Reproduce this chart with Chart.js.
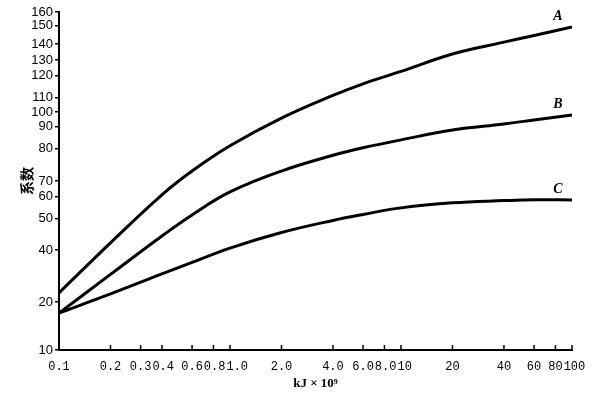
<!DOCTYPE html>
<html>
<head>
<meta charset="utf-8">
<script src="https://cdn.jsdelivr.net/npm/chart.js@4/dist/chart.umd.min.js"></script>
<style>
    html, body { margin: 0; padding: 0; background: #fff; }
    #wrap { width: 600px; height: 400px; }
</style>
</head>
<body>
<div id="wrap"><canvas id="coefChart"></canvas></div>
<script>
// energy axis, kJ x 10^9
const energy = [0.1, 0.2, 0.4, 0.6, 1, 2, 4, 6, 10, 20, 40, 60, 100];
const curveA = [23.5, 42.3, 61.3, 73.1, 81.4, 95.9, 111.1, 116.4, 122.8, 133.8, 141.1, 144.7, 149.4];
const curveB = [17.7, 30.6, 44.5, 51.8, 63.1, 73.1, 78, 80.5, 84.1, 88.6, 92, 94.7, 98];
const curveC = [17.7, 23.1, 30.8, 35.2, 40.6, 45.6, 49.5, 52, 55, 57.3, 58.3, 58.7, 58.6];

const xTicks = [0.1, 0.2, 0.3, 0.4, 0.6, 0.8, 1, 2, 4, 6, 8, 10, 20, 40, 60, 80, 100];
const xTickLabels = ['0.1', '0.2', '0.3', '0.4', '0.6', '0.8', '1.0', '2.0', '4.0', '6.0', '8.0', '10', '20', '40', '60', '80', '100'];
const yTicks = [10, 20, 40, 50, 60, 70, 80, 90, 100, 110, 120, 130, 140, 150, 160];
// where each y tick sits along the (unevenly ruled) printed axis, 0 = bottom, 1 = top
const yTickPlaces = [0, 0.142, 0.296, 0.388, 0.453, 0.5, 0.595, 0.66, 0.704, 0.746, 0.811, 0.858, 0.905, 0.959, 1];

// value axis ruled like the original paper: piecewise between the printed ticks
class RuledScale extends Chart.Scale {
    determineDataLimits() {
        const v = this.options.values;
        this.min = v[0];
        this.max = v[v.length - 1];
    }
    buildTicks() {
        return this.options.values.map(v => ({ value: v }));
    }
    getLabelForValue(value) {
        return String(value);
    }
    getDecimalForValue(value) {
        const v = this.options.values, p = this.options.places;
        if (value <= v[0]) return p[0];
        for (let i = 1; i < v.length; i++) {
            if (value <= v[i]) {
                return p[i - 1] + (value - v[i - 1]) / (v[i] - v[i - 1]) * (p[i] - p[i - 1]);
            }
        }
        return p[p.length - 1];
    }
    getPixelForValue(value) {
        return this.getPixelForDecimal(this.getDecimalForValue(value));
    }
    getPixelForTick(index) {
        return this.getPixelForValue(this.ticks[index].value);
    }
    getValueForPixel(pixel) {
        const d = this.getDecimalForPixel(pixel);
        const v = this.options.values, p = this.options.places;
        for (let i = 1; i < p.length; i++) {
            if (d <= p[i]) {
                return v[i - 1] + (d - p[i - 1]) / (p[i] - p[i - 1]) * (v[i] - v[i - 1]);
            }
        }
        return v[v.length - 1];
    }
}
RuledScale.id = 'ruled';
RuledScale.defaults = {};
Chart.register(RuledScale);

function toPoints(ys) {
    return energy.map((x, i) => ({ x: x, y: ys[i] }));
}

function curve(label, ys) {
    return {
        label: label,
        data: toPoints(ys),
        borderColor: '#000',
        borderWidth: 3,
        pointRadius: 0,
        fill: false,
        tension: 0.4
    };
}

// energy axis: short marks pointing up into the plot, labels pushed apart where they crowd
const energyAxis = {
    id: 'energyAxis',
    afterDraw(chart) {
        const ctx = chart.ctx;
        const xs = chart.scales.x;
        const bottom = chart.chartArea.bottom;
        ctx.save();
        ctx.strokeStyle = '#000';
        ctx.lineWidth = 1.5;
        xs.ticks.forEach(t => {
            const px = xs.getPixelForValue(t.value);
            ctx.beginPath();
            ctx.moveTo(px, bottom);
            ctx.lineTo(px, bottom - 5);
            ctx.stroke();
        });

        ctx.font = '12px "Liberation Mono"';
        ctx.fillStyle = '#000';
        ctx.textAlign = 'left';
        ctx.textBaseline = 'middle';
        let prevRight = -Infinity;
        xTicks.forEach((v, i) => {
            const text = xTickLabels[i];
            const w = ctx.measureText(text).width;
            const left = Math.max(xs.getPixelForValue(v) - w / 2, prevRight + 1);
            ctx.fillText(text, left, bottom + 17);
            prevRight = left + w;
        });
        ctx.restore();
    }
};

// A / B / C written just above the end of each curve
const curveNames = {
    id: 'curveNames',
    afterDatasetsDraw(chart) {
        const ctx = chart.ctx;
        ctx.save();
        ctx.font = 'italic bold 14px "Liberation Serif"';
        ctx.fillStyle = '#000';
        ctx.textAlign = 'center';
        ctx.textBaseline = 'middle';
        chart.data.datasets.forEach((ds, i) => {
            const pts = chart.getDatasetMeta(i).data;
            const last = pts[pts.length - 1];
            ctx.fillText(ds.label, last.x - 14, last.y - 11);
        });
        ctx.restore();
    }
};

const ctx = document.getElementById('coefChart').getContext('2d');
new Chart(ctx, {
    type: 'line',
    data: {
        datasets: [curve('A', curveA), curve('B', curveB), curve('C', curveC)]
    },
    options: {
        responsive: true,
        maintainAspectRatio: false,
        animation: false,
        layout: {
            padding: { left: 0, right: 28, top: 12, bottom: 0 }
        },
        plugins: {
            legend: { display: false },
            tooltip: { enabled: false }
        },
        scales: {
            x: {
                type: 'logarithmic',
                min: 0.1,
                max: 100,
                afterBuildTicks: function (scale) {
                    scale.ticks = xTicks.map(v => ({ value: v }));
                },
                afterFit: function (scale) {
                    scale.height = 50;
                },
                border: { display: true, color: '#000', width: 2 },
                grid: { display: true, drawOnChartArea: false, drawTicks: false },
                ticks: { display: false },
                title: {
                    display: true,
                    text: 'kJ × 10⁹',
                    color: '#000',
                    padding: { top: 0, bottom: 9 },
                    font: { family: '"Liberation Serif"', size: 13, weight: 'bold' }
                }
            },
            y: {
                type: 'ruled',
                position: 'left',
                values: yTicks,
                places: yTickPlaces,
                afterFit: function (scale) {
                    scale.width = 59;
                },
                border: { display: true, color: '#000', width: 2 },
                grid: { display: true, drawOnChartArea: false, drawTicks: true, tickLength: 4, color: '#000', lineWidth: 1.5 },
                ticks: {
                    autoSkip: false,
                    padding: 2,
                    color: '#000',
                    font: { family: '"Liberation Sans"', size: 13 }
                },
                title: {
                    display: true,
                    text: '系数',
                    color: '#000',
                    padding: { top: 18, bottom: 0 },
                    font: { family: '"Noto Sans CJK SC"', size: 14, weight: 'bold' }
                }
            }
        }
    },
    plugins: [energyAxis, curveNames]
});
</script>
</body>
</html>
